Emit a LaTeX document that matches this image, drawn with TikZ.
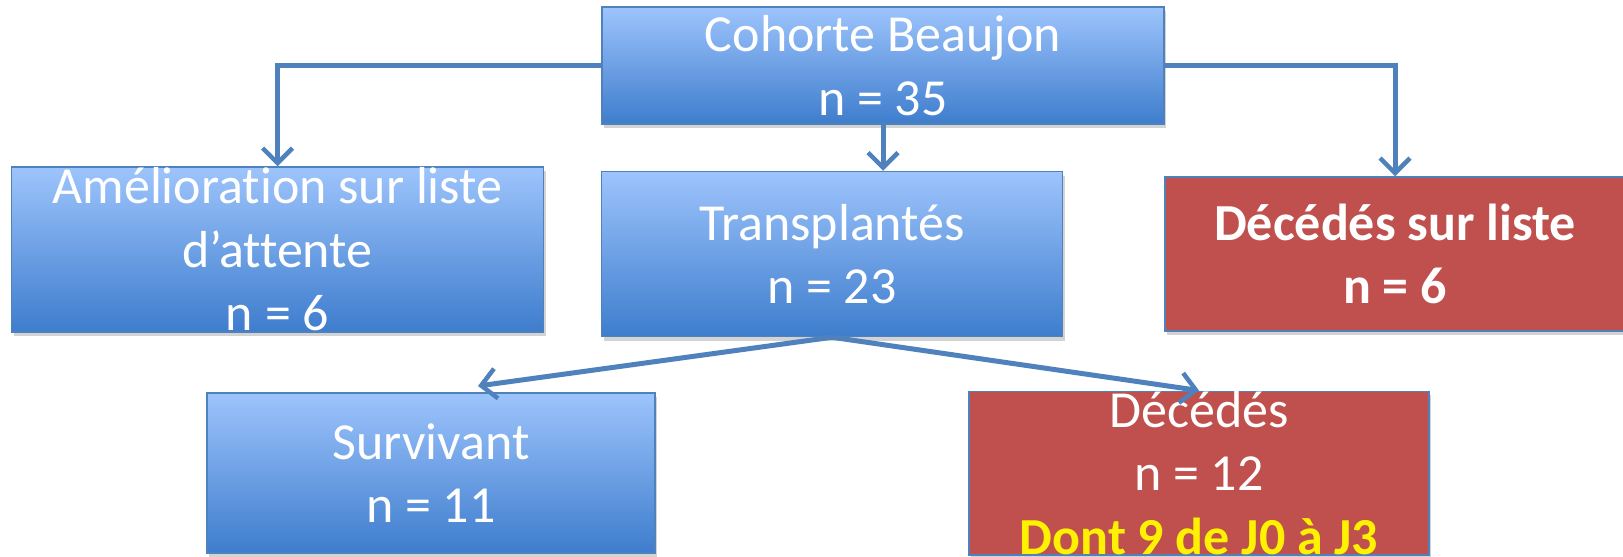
\documentclass[tikz,border=0pt]{standalone}
\usepackage{fontspec}
\setmainfont[Ligatures=NoCommon]{Carlito}
\usetikzlibrary{calc,arrows.meta,shadows}
\definecolor{boxtop}{RGB}{157,196,252}
\definecolor{boxbot}{RGB}{62,125,205}
\definecolor{boxline}{RGB}{79,129,189}
\definecolor{deadred}{RGB}{192,80,77}

\begin{document}
\begin{tikzpicture}[x=1pt,y=-1pt,
		box/.style={draw=boxline,line width=1.5pt,text=white,align=center,inner sep=0pt,
			font=\fontsize{52}{63.5}\selectfont,
			drop shadow={shadow xshift=2pt,shadow yshift=-4pt,opacity=0.35}},
		bluebox/.style={box,top color=boxtop,bottom color=boxbot},
		redbox/.style={box,fill=deadred},
		arr/.style={draw=boxline,line width=5pt,-{Straight Barb[length=15pt,width=30pt,line width=4.5pt]}}]
			\useasboundingbox (0,0) rectangle (1623,557);
			\node[bluebox,minimum width=562pt,minimum height=117pt] (cohorte) at (883,65.5) {Cohorte Beaujon\\n = 35};
			\node[bluebox,minimum width=532pt,minimum height=165pt] (amelio) at (277.5,249.5) {Amélioration sur liste\\d’attente\\n = 6};
			\node[bluebox,minimum width=461pt,minimum height=165pt] (transpl) at (832,254) {Transplantés\\n = 23};
			\node[redbox,minimum width=460pt,minimum height=154pt,font=\fontsize{52}{63.5}\selectfont\bfseries] (decliste) at (1395,254) {Décédés sur liste\\n = 6};
			\node[bluebox,minimum width=448pt,minimum height=160pt] (surv) at (431,473) {Survivant\\n = 11};
			\node[redbox,minimum width=460pt,minimum height=160pt] (deces) at (1199,473) {Décédés\\n = 12\\\textcolor{yellow}{\bfseries Dont 9 de J0 à J3}};
			\coordinate (survin) at (478,386);
			\draw[arr] (cohorte.west) -| (amelio.north);
			\draw[arr] (cohorte.east) -| (decliste.north);
			\draw[arr] (cohorte.south) -- (cohorte.south |- transpl.north);
			\draw[arr] (transpl.south) -- (survin);
			\draw[arr] (transpl.south) -- (deces.north);
		\end{tikzpicture}
\end{document}
